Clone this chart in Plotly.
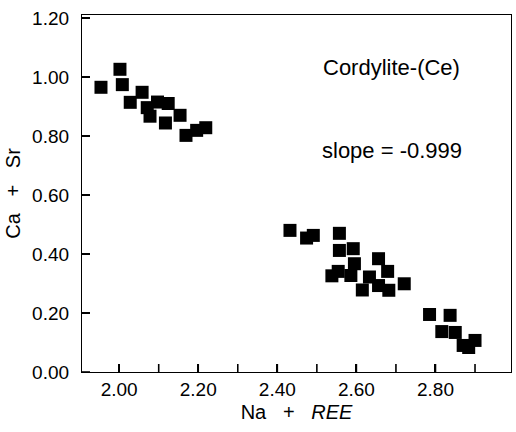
import plotly.graph_objects as go

# Data (Na + REE vs Ca + Sr)
na_ree = [1.954, 2.002, 2.008, 2.028, 2.058, 2.071, 2.078, 2.097, 2.124, 2.117,
          2.154, 2.169, 2.196, 2.219,
          2.432, 2.474, 2.491, 2.557, 2.557, 2.592, 2.595, 2.538, 2.554, 2.586,
          2.656, 2.679, 2.633, 2.615, 2.656, 2.682, 2.721,
          2.785, 2.837, 2.816, 2.850, 2.870, 2.884, 2.900]
ca_sr = [0.965, 1.026, 0.974, 0.914, 0.948, 0.896, 0.867, 0.915, 0.910, 0.844,
         0.870, 0.802, 0.819, 0.828,
         0.480, 0.454, 0.463, 0.470, 0.412, 0.418, 0.367, 0.326, 0.341, 0.327,
         0.384, 0.341, 0.322, 0.278, 0.293, 0.277, 0.299,
         0.195, 0.192, 0.137, 0.134, 0.090, 0.083, 0.107]

x_tick_vals = [2.0, 2.2, 2.4, 2.6, 2.8]
x_tick_labels = ["2.00", "2.20", "2.40", "2.60", "2.80"]
x_minor_tick_vals = [2.0, 2.1, 2.2, 2.3, 2.4, 2.5, 2.6, 2.7, 2.8, 2.9]
y_tick_vals = [0.0, 0.2, 0.4, 0.6, 0.8, 1.0, 1.2]
y_tick_labels = ["0.00", "0.20", "0.40", "0.60", "0.80", "1.00", "1.20"]

mineral_label = "Cordylite-(Ce)"
slope_label = "slope = -0.999"

FONT = "Liberation Sans, Arial, sans-serif"
TICK_LEN = 8
TICK_W = 1.6

fig = go.Figure()
fig.add_trace(go.Scatter(
    x=na_ree, y=ca_sr, mode="markers",
    marker=dict(symbol="square", size=13, color="black", line=dict(width=0)),
    showlegend=False,
))

fig.add_annotation(x=2.69, y=1.033, text=mineral_label, showarrow=False,
                   font=dict(family=FONT, size=22, color="black"))
fig.add_annotation(x=2.69, y=0.751, text=slope_label, showarrow=False,
                   font=dict(family=FONT, size=22, color="black"))

# inward tick marks (pixel-length lines anchored on the axes)
for v in x_minor_tick_vals:
    fig.add_shape(type="line", xref="x", yref="paper", x0=v, x1=v,
                  ysizemode="pixel", yanchor=0, y0=0, y1=TICK_LEN,
                  line=dict(color="black", width=TICK_W), layer="above")
for v in y_tick_vals:
    fig.add_shape(type="line", xref="paper", yref="y", y0=v, y1=v,
                  xsizemode="pixel", xanchor=0, x0=0, x1=TICK_LEN,
                  line=dict(color="black", width=TICK_W), layer="above")

sp = "\u00a0\u00a0\u00a0"
fig.update_layout(
    template="none",
    width=516, height=432,
    margin=dict(l=82, r=5, t=15, b=60, autoexpand=False),
    paper_bgcolor="white", plot_bgcolor="white",
    font=dict(family=FONT, color="black"),
    xaxis=dict(
        range=[1.906, 2.991],
        tickmode="array",
        tickvals=x_tick_vals, ticktext=x_tick_labels,
        ticks="inside", ticklen=TICK_LEN, tickwidth=TICK_W, tickcolor="black",
        showgrid=False, zeroline=False,
        showline=True, linecolor="black", linewidth=1.3, mirror=True,
        tickfont=dict(family=FONT, size=19),
        automargin=False,
        title=dict(text="Na" + sp + "+" + sp + "<i>REE</i>", font=dict(family=FONT, size=20), standoff=6),
    ),
    yaxis=dict(
        range=[0, 1.21],
        tickmode="array",
        tickvals=y_tick_vals, ticktext=y_tick_labels,
        ticks="inside", ticklen=TICK_LEN, tickwidth=TICK_W, tickcolor="black",
        showgrid=False, zeroline=False,
        showline=True, linecolor="black", linewidth=1.3, mirror=True,
        tickfont=dict(family=FONT, size=19),
        ticklabelstandoff=8,
        automargin=False,
        title=dict(text="Ca" + sp + "+" + sp + "Sr", font=dict(family=FONT, size=20), standoff=6),
    ),
)

fig.write_html("out.html", config={"displayModeBar": False},
               post_script="document.body.style.margin='0';document.body.style.overflow='hidden';")
